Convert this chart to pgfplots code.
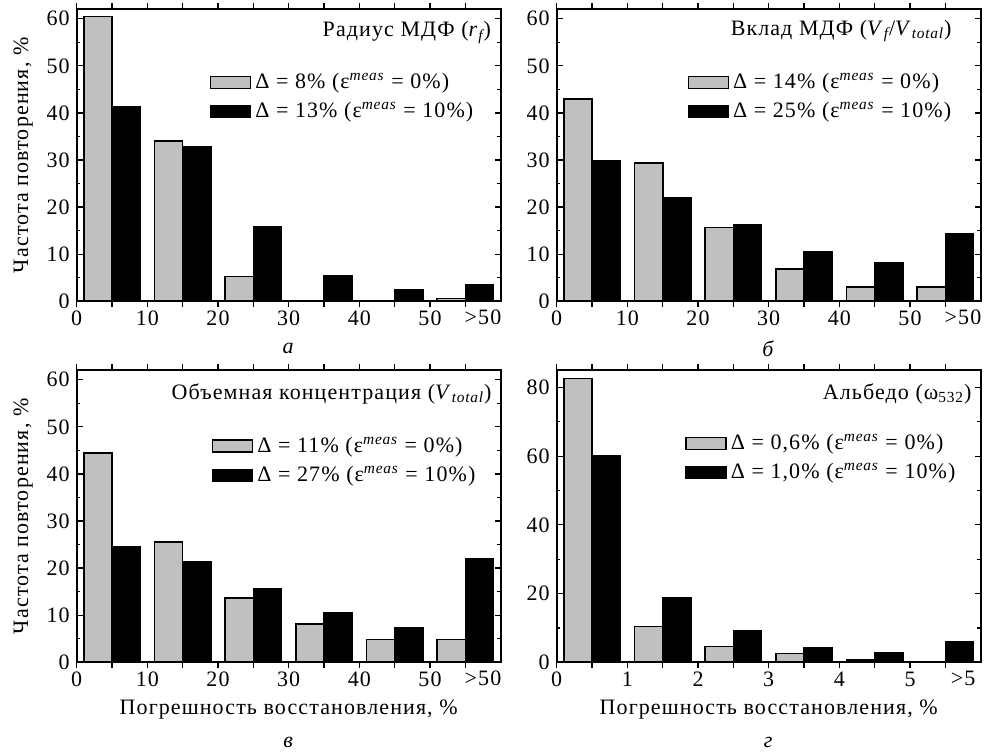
\documentclass[border=0pt]{standalone}
\usepackage{pgfplots}
\pgfplotsset{compat=1.18}
\usepackage{fontspec}
\setmainfont{Liberation Serif}[LetterSpace=5]

\definecolor{barg}{RGB}{192,192,192}
\newcommand{\fs}{\fontsize{11}{13}\selectfont}
\tikzset{ttl/.style={anchor=east, inner sep=0pt, font=\fs},
         lab/.style={font=\fs, inner sep=0pt}}

\pgfplotsset{
  hist/.style={
    width=212pt, height=146pt, scale only axis,
    axis line style={line width=1pt},
    every tick/.style={black, line width=0.6pt},
    major tick length=3pt, minor tick length=1.8pt,
    ymin=0,
    ybar, bar width=4, bar shift=0pt,
    /pgf/number format/assume math mode=true,
    tick label style={font=\fs},
    xticklabel style={yshift=1.5pt},
    label style={font=\fs},
    legend style={draw=none, fill=none, anchor=north east,
      font=\fs, row sep=1.5pt, legend cell align=left},
    legend image code/.code={\draw[##1] (0pt,-3pt) rectangle (20pt,3pt);},
  },
  gbar/.style={fill=barg, draw=black, line width=0.8pt},
  kbar/.style={fill=black, draw=black, line width=0.8pt},
  xfifty/.style={
    xmin=0, xmax=60,
    xtick={0,5,...,55}, xticklabels={0,,10,,20,,30,,40,,50,},
    extra x ticks={57.5}, extra x tick labels={>50},
    extra x tick style={major tick length=0pt, xticklabel style={yshift=-2.5pt}},
    bar width=4,
  },
}

\begin{document}
\begin{tikzpicture}
\useasboundingbox (-38.35pt,4.65pt) rectangle (455.15pt,-371.65pt);

% а
\begin{axis}[hist, xfifty, name=pa, at={(0pt,0pt)}, anchor=north west,
  ymax=62, ytick={0,10,...,60}, minor ytick={5,15,...,55},
  ylabel={Частота повторения, \%},
  legend style={at={(0.96,0.81)}}]
\addplot[gbar] coordinates {(3,60.5) (13,34.0) (23,5.3) (33,0.2) (53,0.6)};
\addlegendentry{Δ = 8\% (ε\textsuperscript{\itshape meas} = 0\%)}
\addplot[kbar] coordinates {(7,41.2) (17,32.8) (27,15.8) (37,5.4) (47,2.5) (57,3.5)};
\addlegendentry{Δ = 13\% (ε\textsuperscript{\itshape meas} = 10\%)}
\node[ttl] at (rel axis cs:0.978,0.92)
  {Радиус МДФ (\textit{r}\textsubscript{\itshape f})};
\end{axis}

% б
\begin{axis}[hist, xfifty, name=pb, at={(240pt,0pt)}, anchor=north west,
  ymax=62, ytick={0,10,...,60}, minor ytick={5,15,...,55},
  legend style={at={(0.955,0.81)}}]
\addplot[gbar] coordinates {(3,43.0) (13,29.3) (23,15.7) (33,6.8) (43,3.0) (53,3.0)};
\addlegendentry{Δ = 14\% (ε\textsuperscript{\itshape meas} = 0\%)}
\addplot[kbar] coordinates {(7,29.8) (17,21.9) (27,16.2) (37,10.6) (47,8.2) (57,14.4)};
\addlegendentry{Δ = 25\% (ε\textsuperscript{\itshape meas} = 10\%)}
\node[ttl] at (rel axis cs:0.932,0.925)
  {Вклад МДФ (\textit{V}\textsubscript{\itshape f}/\textit{V}\textsubscript{\itshape total})};
\end{axis}

% в
\begin{axis}[hist, xfifty, name=pc, at={(0pt,-180.5pt)}, anchor=north west,
  ymax=62, ytick={0,10,...,60}, minor ytick={5,15,...,55},
  ylabel={Частота повторения, \%},
  legend style={at={(0.965,0.80)}}]
\addplot[gbar] coordinates {(3,44.4) (13,25.5) (23,13.7) (33,8.1) (43,4.8) (53,4.8)};
\addlegendentry{Δ = 11\% (ε\textsuperscript{\itshape meas} = 0\%)}
\addplot[kbar] coordinates {(7,24.6) (17,21.4) (27,15.7) (37,10.6) (47,7.3) (57,21.9)};
\addlegendentry{Δ = 27\% (ε\textsuperscript{\itshape meas} = 10\%)}
\node[ttl] at (rel axis cs:0.979,0.92)
  {Объемная концентрация (\textit{V}\textsubscript{\itshape total})};
\end{axis}

% г
\begin{axis}[hist, name=pd, at={(240pt,-180.5pt)}, anchor=north west,
  xmin=0, xmax=6, bar width=0.4,
  xtick={0,0.5,...,5.5}, xticklabels={0,,1,,2,,3,,4,,5,},
  extra x ticks={5.75}, extra x tick labels={>5},
  extra x tick style={major tick length=0pt, xticklabel style={yshift=-2.5pt}},
  ymax=85, ytick={0,20,...,80}, minor ytick={10,30,...,70},
  legend style={at={(0.965,0.81)}}]
\addplot[gbar] coordinates {(0.3,82.6) (1.3,10.4) (2.3,4.6) (3.3,2.6) (4.3,0.7)};
\addlegendentry{Δ = 0,6\% (ε\textsuperscript{\itshape meas} = 0\%)}
\addplot[kbar] coordinates {(0.7,60.1) (1.7,18.9) (2.7,9.2) (3.7,4.1) (4.7,2.8) (5.7,6.0)};
\addlegendentry{Δ = 1,0\% (ε\textsuperscript{\itshape meas} = 10\%)}
\node[ttl] at (rel axis cs:0.979,0.92)
  {Альбедо (ω\textsubscript{532})};
\end{axis}

% panel letters and bottom axis labels
\node[lab] at ([yshift=-23.5pt]pa.south) {\textit{а}};
\node[lab] at ([yshift=-23.5pt]pb.south) {\textit{б}};
\node[lab] at ([yshift=-23.5pt]pc.south) {Погрешность восстановления, \%};
\node[lab] at ([yshift=-23.5pt]pd.south) {Погрешность восстановления, \%};
\node[lab] at ([yshift=-40pt]pc.south) {\textit{в}};
\node[lab] at ([yshift=-40pt]pd.south) {\textit{г}};

\end{tikzpicture}
\end{document}
